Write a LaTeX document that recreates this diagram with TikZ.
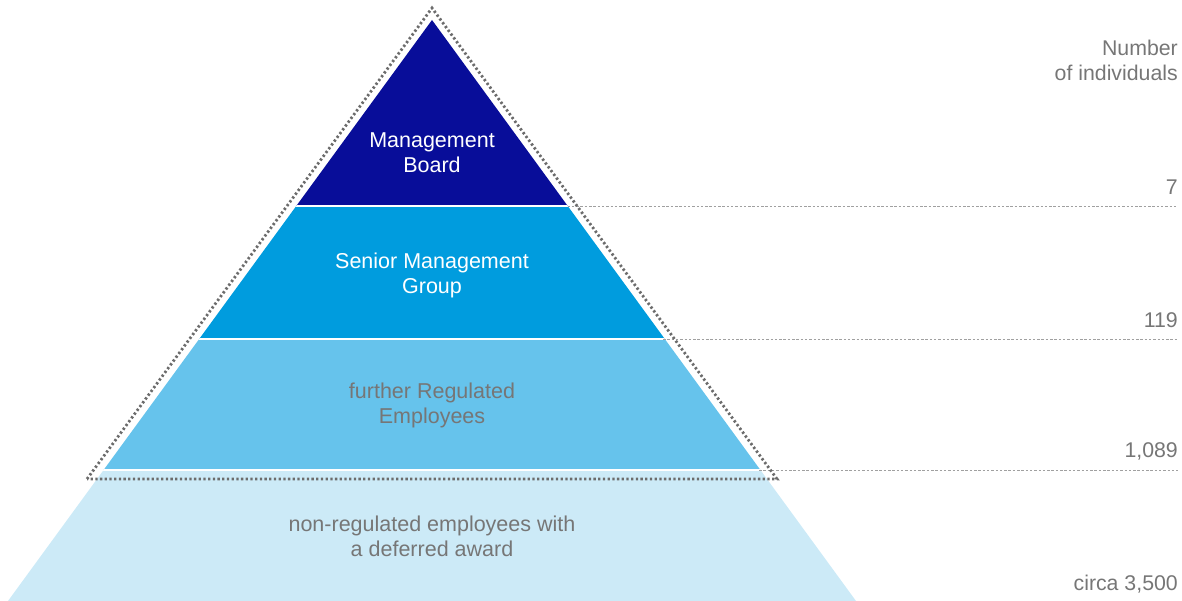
\documentclass[tikz,border=0pt]{standalone}
\usepackage{xcolor}
\usepackage{fontspec}
\setmainfont{Liberation Sans}
\usepackage{tikz}
\definecolor{boardblue}{RGB}{8,13,153}
\definecolor{seniorblue}{RGB}{0,156,222}
\definecolor{furtherblue}{RGB}{102,195,236}
\definecolor{nonregblue}{RGB}{204,234,247}
\definecolor{labelgrey}{RGB}{118,118,118}
\definecolor{rulegrey}{RGB}{160,160,160}
\definecolor{dotgrey}{RGB}{108,108,108}

\begin{document}
\begin{tikzpicture}[x=1pt, y=1pt,
    bandtext/.style={align=center, font=\fontsize{21.5}{25}\selectfont},
    counttext/.style={anchor=base east, text=labelgrey, inner sep=0pt, font=\fontsize{21.3}{25}\selectfont},
    levelrule/.style={rulegrey, line width=0.8pt, dash pattern=on 2.5pt off 1.8pt},
    regbound/.style={dotgrey, line width=2.8pt, dash pattern=on 2.3pt off 2.4pt, line join=miter}]
      \useasboundingbox (0, 0) rectangle (1182, 601);
      \begin{scope}
        \clip (8, 0) -- (432, 581) -- (856, 0) -- cycle;
        \fill [nonregblue] (0, 0) rectangle (900, 131);
        \fill [furtherblue] (0, 131) rectangle (900, 262);
        \fill [seniorblue] (0, 262) rectangle (900, 394.7);
        \fill [boardblue] (0, 394.7) rectangle (900, 600);
        \draw [white, line width=1.6pt] (0, 131) -- (900, 131);
        \draw [white, line width=1.6pt] (0, 262) -- (900, 262);
        \draw [white, line width=1.6pt] (0, 394.7) -- (900, 394.7);
      \end{scope}
      \coordinate (boardcorner) at (567.5, 394.7);
      \coordinate (seniorcorner) at (663, 262);
      \coordinate (furthercorner) at (759, 131);
      \coordinate (boardend) at (1178, 394.7);
      \coordinate (seniorend) at (1178, 262);
      \coordinate (furtherend) at (1178, 131);
      \draw [levelrule] (boardcorner) -- (boardend);
      \draw [levelrule] (seniorcorner) -- (seniorend);
      \draw [levelrule] (furthercorner) -- (furtherend);
      \draw [regbound] (87, 122) -- (432, 593) -- (777, 122) -- cycle;
      \node [bandtext, text=white] (board) at (432, 448.3) {Management\\Board};
      \node [bandtext, text=white] (senior) at (432, 325.7) {Senior Management\\Group};
      \node [bandtext, text=labelgrey] (further) at (432, 195.3) {further Regulated\\Employees};
      \node [bandtext, text=labelgrey] (nonreg) at (432, 64.3) {non-regulated employees with\\a deferred award};
      \node [bandtext, align=right, text=labelgrey, anchor=east, inner sep=0pt, font=\fontsize{21.3}{25}\selectfont] (heading) at (1178, 541) {Number\\of individuals};
      \node [counttext] (boardcount) at (1178, 406) {7};
      \node [counttext] (seniorcount) at (1178, 273) {119};
      \node [counttext] (furthercount) at (1178, 143) {1,089};
      \node [counttext] (nonregcount) at (1178, 10) {circa 3,500};
    \end{tikzpicture}
\end{document}
